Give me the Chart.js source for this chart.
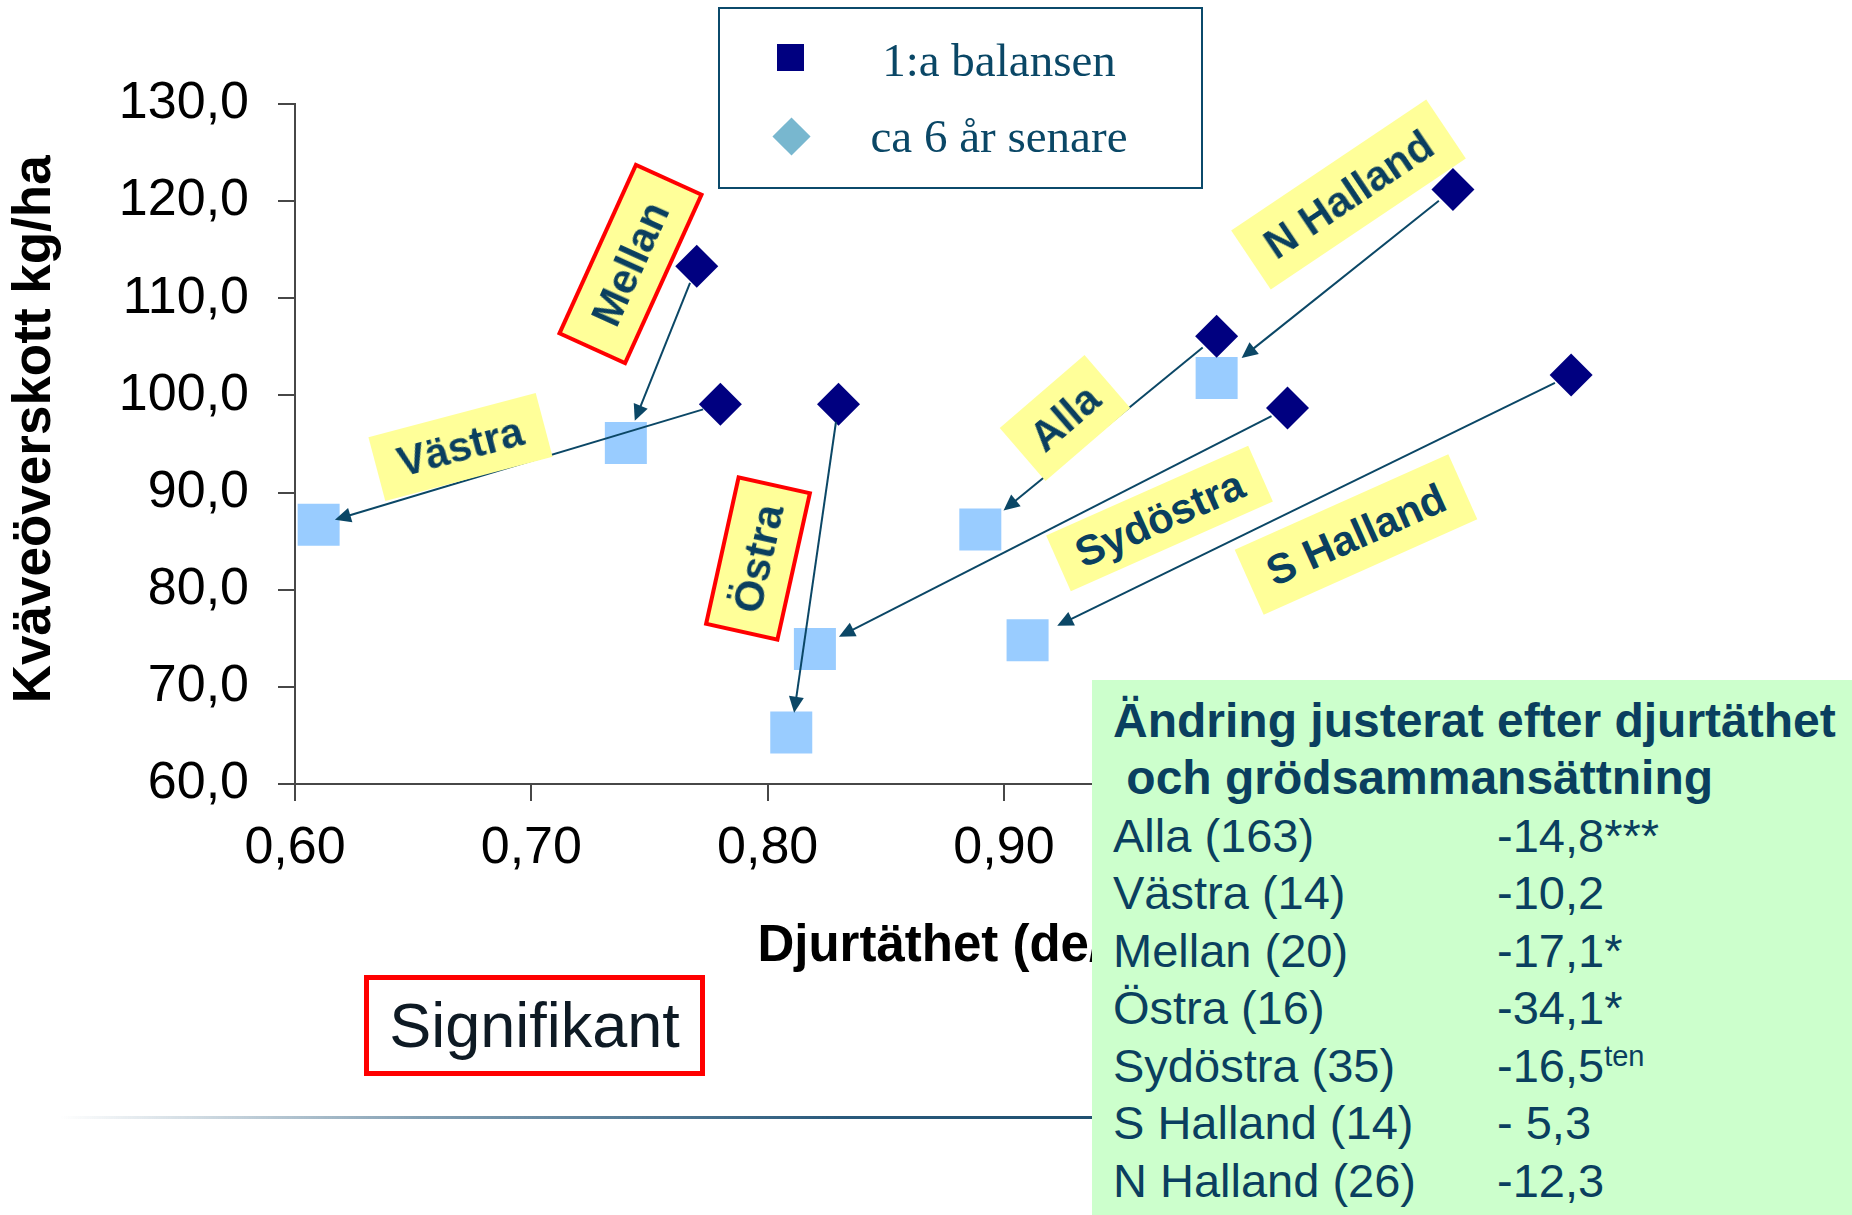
<!DOCTYPE html>
<html lang="sv">
<head>
<meta charset="utf-8">
<title>Kväveöverskott och djurtäthet</title>
<script src="https://cdn.jsdelivr.net/npm/chart.js@4.4.1/dist/chart.umd.min.js"></script>
<style>
  html, body { margin: 0; padding: 0; background: #fff; }
  #wrap { position: relative; width: 1852px; height: 1215px; overflow: hidden; background: #fff;
          font-family: "Liberation Sans", Arial, sans-serif; }
  #chart { position: absolute; left: 0; top: 0; }
  .lbl { position: absolute; box-sizing: border-box; background: #ffff99; color: #0a3f5f;
         font-weight: bold; font-size: 42px; display: flex; align-items: center; justify-content: center;
         white-space: nowrap; line-height: 1; }
  .lbl.sig { border: 4px solid #ff0000; }
  #legend { position: absolute; left: 718px; top: 7px; width: 485px; height: 182px; box-sizing: border-box;
            border: 2.5px solid #0b4a6b; background: #fff; }
  #legend .mk { position: absolute; width: 27px; height: 27px; }
  #legend .txt { position: absolute; left: 0; width: 558px; text-align: center; white-space: nowrap;
                 font-family: "Liberation Serif", "Times New Roman", serif; font-size: 47px; line-height: 47px;
                 color: #0a4766; }
  #signif { position: absolute; left: 364px; top: 975px; width: 341px; height: 101px; box-sizing: border-box;
            border: 5px solid #ff0000; font-size: 63px; line-height: 91px; text-align: center; color: #0e1a24; }
  #rule { position: absolute; left: 60px; top: 1116px; width: 1040px; height: 3px;
          background: linear-gradient(to right, rgba(47,95,128,0), rgba(47,95,128,0.6) 35%, #2a5a7c 75%, #1f5070); }
  #green { position: absolute; left: 1092px; top: 680px; width: 760px; height: 535px; background: #ccffcc;
           color: #0a3f5f; font-size: 47px; line-height: 57.5px; padding: 11.7px 0 0 21px; box-sizing: border-box; }
  #green .head { font-weight: bold; font-size: 48px; white-space: nowrap; }
  #green .row { position: relative; white-space: nowrap; height: 57.5px; }
  #green .val { position: absolute; left: 384px; top: 0; }
  #green sup { font-size: 29px; vertical-align: 0; position: relative; top: -16px; }
</style>
</head>
<body>
<div id="wrap">
  <canvas id="chart" width="1852" height="1215"></canvas>
  <div id="labels"></div>
  <div id="legend"></div>
  <div id="signif">Signifikant</div>
  <div id="rule"></div>
  <div id="green"></div>
</div>
<script>
// regioner och värden (1:a balansen -> ca 6 år senare)
var regions = ['Alla', 'Västra', 'Mellan', 'Östra', 'Sydöstra', 'S Halland', 'N Halland'];
var firstX = [0.99, 0.78, 0.77, 0.83, 1.02, 1.14, 1.09];
var firstY = [106.1, 99.1, 113.3, 99.1, 98.7, 102.1, 121.2];
var laterX = [0.89, 0.61, 0.74, 0.81, 0.82, 0.91, 0.99];
var laterY = [86.2, 86.7, 95.1, 65.3, 73.9, 74.8, 101.8];
var seriesNames = ['1:a balansen', 'ca 6 år senare'];
var significant = ['Mellan', 'Östra'];

var yMin = 60, yMax = 130, yStep = 10;
var xMin = 0.6, xMax = 1.17, xStep = 0.1;

// tabell i gröna rutan
var tableTitle = ['Ändring justerat efter djurtäthet', '\u00a0och grödsammansättning'];
var tableRegions = ['Alla (163)', 'Västra (14)', 'Mellan (20)', 'Östra (16)', 'Sydöstra (35)', 'S Halland (14)', 'N Halland (26)'];
var tableChange = ['-14,8***', '-10,2', '-17,1*', '-34,1*', '-16,5', '- 5,3', '-12,3'];
var tableNote = ['', '', '', '', 'ten', '', ''];

// placering av etiketterna (datakoordinater), vinkel, storlek, pilens avstånd till målpunkten
var labelLayout = {
    'Alla':      { x: 0.926, y: 97.7,  angle: -40.8, w: 112, h: 70, gap: 30 },
    'Västra':    { x: 0.670, y: 94.7,  angle: -14.8, w: 173, h: 66, gap: 17 },
    'Mellan':    { x: 0.742, y: 113.5, angle: -65.6, w: 189, h: 76, gap: 24 },
    'Östra':     { x: 0.796, y: 83.2,  angle: -77.5, w: 154, h: 77, gap: 20 },
    'Sydöstra':  { x: 0.966, y: 87.3,  angle: -23.9, w: 221, h: 61, gap: 27 },
    'S Halland': { x: 1.049, y: 85.7,  angle: -24.1, w: 234, h: 71, gap: 33 },
    'N Halland': { x: 1.046, y: 120.7, angle: -33.9, w: 235, h: 71, gap: 32 }
};

var arrowColor = '#0b4766';

function toPoints(xs, ys) {
    return xs.map(function(x, i) { return { x: x, y: ys[i] }; });
}

function comma(v, d) {
    return Number(v).toFixed(d).replace('.', ',');
}

var arrowPlugin = {
    id: 'arrows',
    afterDatasetsDraw: function(chart) {
        var ctx = chart.ctx, sx = chart.scales.x, sy = chart.scales.y;
        ctx.save();
        ctx.strokeStyle = arrowColor;
        ctx.fillStyle = arrowColor;
        ctx.lineWidth = 2;
        regions.forEach(function(r, i) {
            var x0 = sx.getPixelForValue(firstX[i]), y0 = sy.getPixelForValue(firstY[i]);
            var x1 = sx.getPixelForValue(laterX[i]), y1 = sy.getPixelForValue(laterY[i]);
            var dx = x1 - x0, dy = y1 - y0, len = Math.hypot(dx, dy);
            var ux = dx / len, uy = dy / len;
            var gap = labelLayout[r].gap;
            var tx = x1 - ux * gap, ty = y1 - uy * gap;
            var bx = tx - ux * 16, by = ty - uy * 16;
            ctx.beginPath();
            ctx.moveTo(x0 + ux * 18, y0 + uy * 18);
            ctx.lineTo(bx + ux * 3, by + uy * 3);
            ctx.stroke();
            ctx.beginPath();
            ctx.moveTo(tx, ty);
            ctx.lineTo(bx - uy * 7.5, by + ux * 7.5);
            ctx.lineTo(bx + uy * 7.5, by - ux * 7.5);
            ctx.closePath();
            ctx.fill();
        });
        ctx.restore();
    }
};

Chart.defaults.font.family = '"Liberation Sans", Arial, sans-serif';
Chart.defaults.color = '#000';

var axisColor = '#474747';

var chart = new Chart(document.getElementById('chart'), {
    type: 'scatter',
    data: {
        datasets: [{
            label: seriesNames[0],
            data: toPoints(firstX, firstY),
            pointStyle: 'rectRot',
            pointRadius: 21.5,
            pointHoverRadius: 21.5,
            backgroundColor: '#000080',
            borderWidth: 0
        }, {
            label: seriesNames[1],
            data: toPoints(laterX, laterY),
            pointStyle: 'rect',
            pointRadius: 29.7,
            pointHoverRadius: 29.7,
            backgroundColor: '#99ccff',
            borderWidth: 0
        }]
    },
    options: {
        responsive: false,
        animation: false,
        events: [],
        devicePixelRatio: 1,
        layout: { padding: { left: 0, top: 104, right: 210, bottom: 0 } },
        plugins: {
            legend: { display: false },
            tooltip: { enabled: false }
        },
        scales: {
            x: {
                type: 'linear',
                min: xMin,
                max: xMax,
                afterFit: function(s) { s.height = 431; },
                ticks: {
                    stepSize: xStep,
                    padding: 16,
                    font: { size: 52 },
                    color: '#000',
                    callback: function(v) { return comma(v, 2); }
                },
                grid: { drawOnChartArea: false, drawTicks: true, tickLength: 17, color: axisColor, lineWidth: 2 },
                border: { display: true, color: axisColor, width: 2 },
                title: {
                    display: true,
                    text: 'Djurtäthet (de/ha)',
                    font: { size: 51, weight: 'bold' },
                    color: '#000',
                    padding: { top: 0, bottom: 237 }
                }
            },
            y: {
                min: yMin,
                max: yMax,
                afterFit: function(s) { s.width = 295; },
                ticks: {
                    stepSize: yStep,
                    padding: 29,
                    font: { size: 52 },
                    color: '#000',
                    callback: function(v) { return comma(v, 1); }
                },
                grid: { drawOnChartArea: false, drawTicks: true, tickLength: 17, color: axisColor, lineWidth: 2 },
                border: { display: true, color: axisColor, width: 2 },
                title: {
                    display: true,
                    // två inledande blanksteg flyttar titeln lite uppåt som i originalet
                    text: '\u00a0\u00a0Kväveöverskott kg/ha',
                    font: { size: 53, weight: 'bold' },
                    color: '#000',
                    padding: { top: 4, bottom: 0 }
                }
            }
        }
    },
    plugins: [arrowPlugin]
});

// etiketter vid pilarna, placerade via diagrammets skalor
function placeLabels() {
    var holder = document.getElementById('labels');
    var sx = chart.scales.x, sy = chart.scales.y;
    holder.innerHTML = '';
    regions.forEach(function(r) {
        var l = labelLayout[r];
        var px = sx.getPixelForValue(l.x), py = sy.getPixelForValue(l.y);
        var d = document.createElement('div');
        d.className = 'lbl' + (significant.indexOf(r) >= 0 ? ' sig' : '');
        d.textContent = r;
        d.style.width = l.w + 'px';
        d.style.height = l.h + 'px';
        d.style.left = (px - l.w / 2) + 'px';
        d.style.top = (py - l.h / 2) + 'px';
        d.style.transform = 'rotate(' + l.angle + 'deg)';
        holder.appendChild(d);
    });
}

function buildLegend() {
    var lg = document.getElementById('legend');
    var html = '';
    // markörerna i förklaringen är som i originalet (kvadrat / romb)
    html += '<div class="mk" style="left:57px;top:35px;background:#000080"></div>';
    html += '<div class="mk" style="left:58px;top:114px;background:#78b7cf;transform:rotate(45deg)"></div>';
    html += '<div class="txt" style="top:28px">' + seriesNames[0] + '</div>';
    html += '<div class="txt" style="top:104px">' + seriesNames[1] + '</div>';
    lg.innerHTML = html;
}

function buildTable() {
    var g = document.getElementById('green');
    var html = tableTitle.map(function(t) { return '<div class="head">' + t + '</div>'; }).join('');
    tableRegions.forEach(function(r, i) {
        var note = tableNote[i] ? '<sup>' + tableNote[i] + '</sup>' : '';
        html += '<div class="row">' + r + '<span class="val">' + tableChange[i] + note + '</span></div>';
    });
    g.innerHTML = html;
}

placeLabels();
buildLegend();
buildTable();
</script>
</body>
</html>
